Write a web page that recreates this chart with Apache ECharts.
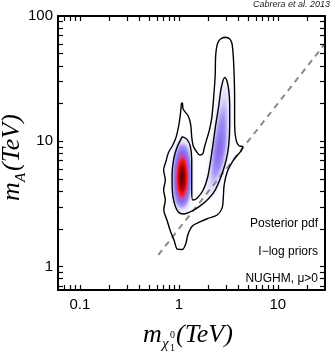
<!DOCTYPE html>
<html>
<head>
<meta charset="utf-8">
<script src="https://cdn.jsdelivr.net/npm/echarts@6/dist/echarts.min.js"></script>
<style>
  html, body { margin: 0; padding: 0; background: #fff; }
  #chart { width: 332px; height: 352px; }
</style>
</head>
<body>
<div id="chart"></div>
<script>
// axis extents (TeV) and tick positions
const xRange = [0.06, 30];
const yRange = [0.65, 100];
const xTicks = [0.07, 0.08, 0.09, 0.1, 0.2, 0.3, 0.4, 0.5, 0.6, 0.7, 0.8, 0.9, 1, 2, 3, 4, 5, 6, 7, 8, 9, 10, 20];
const yTicks = [0.7, 0.8, 0.9, 1, 2, 3, 4, 5, 6, 7, 8, 9, 10, 20, 30, 40, 50, 60, 70, 80, 90];
const xLabels = [0.1, 1, 10];
const yLabels = [1, 10, 100];

// m_A = 2 m_chi line
const funnelLine = [[0.62, 1.24], [30, 60]];

// contours [m_chi, m_A]
const outerContour = [
  [2.94, 67.6], [3.23, 66.1], [3.43, 60.9], [3.54, 48.8], [3.62, 33.8], [3.66, 21.4], [3.66, 13.5],
  [3.79, 10.2], [4.07, 9.17], [4.41, 9.09], [4.26, 8.37], [3.84, 7.63], [3.46, 6.83], [3.08, 5.69],
  [2.87, 4.48], [2.81, 3.53], [2.74, 2.94], [2.44, 2.58], [1.96, 2.42], [1.63, 2.27], [1.37, 2.11],
  [1.24, 1.82], [1.17, 1.51], [1.08, 1.37], [0.963, 1.38], [0.90, 1.60], [0.82, 1.92], [0.758, 2.35],
  [0.704, 2.83], [0.729, 3.40], [0.701, 4.08], [0.729, 4.91], [0.701, 5.90], [0.74, 6.9], [0.782, 8.07],
  [0.868, 9.34], [0.941, 10.9], [1.0, 13.5], [1.033, 16.2], [1.052, 18.4], [1.062, 20.0], [1.087, 20.2],
  [1.097, 18.4], [1.134, 17.5], [1.244, 15.9], [1.318, 13.5], [1.349, 10.8], [1.397, 9.17], [1.516, 8.21],
  [1.625, 7.77], [1.742, 7.92], [1.804, 8.84], [1.913, 10.4], [2.026, 12.1], [2.148, 15.3], [2.249, 22.6],
  [2.329, 33.8], [2.357, 48.8], [2.47, 60.9], [2.679, 66.1], [2.94, 67.6]
];
const innerContour = [
  [1.082, 10.9], [0.952, 8.84], [0.884, 7.09], [0.854, 5.38], [0.858, 4.08], [0.899, 3.22], [0.986, 2.73],
  [1.121, 2.63], [1.366, 2.78], [1.643, 3.05], [1.981, 3.46], [2.329, 4.08], [2.679, 5.28], [3.008, 7.09],
  [3.189, 9.34], [3.263, 13.5], [3.263, 19.5], [3.189, 25.7], [3.043, 30.8], [2.905, 32.3], [2.679, 26.6],
  [2.528, 19.1], [2.357, 13.5], [2.223, 9.69], [2.098, 7.09], [1.958, 5.19], [1.762, 4.08], [1.533, 3.53],
  [1.381, 3.40], [1.349, 4.08], [1.349, 5.38], [1.349, 7.09], [1.303, 9.17], [1.201, 10.4], [1.082, 10.9]
];

// posterior ridge samples [m_chi, m_A, density]
const pdfLowMass = [
  [1.09, 9.17, 0.22], [1.09, 8.21, 0.35], [1.085, 7.35, 0.55], [1.085, 6.59, 0.80], [1.08, 5.90, 0.95],
  [1.08, 5.28, 1.00], [1.08, 4.74, 1.00], [1.075, 4.24, 0.90], [1.075, 3.79, 0.65], [1.07, 3.40, 0.38],
  [1.07, 3.05, 0.20]
];
const pdfHighMass = [
  [2.94, 26.6, 0.08], [2.90, 23.4, 0.11], [2.86, 20.6, 0.15], [2.82, 18.1, 0.19], [2.78, 15.9, 0.24],
  [2.74, 14.0, 0.28], [2.70, 12.3, 0.33], [2.66, 10.8, 0.37], [2.61, 9.5, 0.42], [2.56, 8.37, 0.42],
  [2.50, 7.36, 0.38], [2.43, 6.47, 0.32], [2.35, 5.69, 0.26], [2.26, 5.0, 0.19], [2.15, 4.39, 0.13],
  [2.02, 3.87, 0.09]
];

const lg = Math.log10;
const toLog = pts => pts.map(p => [lg(p[0]), lg(p[1])]);
const fmt = v => String(parseFloat(Math.pow(10, v).toPrecision(2)));

echarts.registerMap('pdfplane', {
  type: 'FeatureCollection',
  features: [{
    type: 'Feature',
    properties: { name: 'plane' },
    geometry: {
      type: 'Polygon',
      coordinates: [[
        [lg(xRange[0]), lg(yRange[0])], [lg(xRange[1]), lg(yRange[0])],
        [lg(xRange[1]), lg(yRange[1])], [lg(xRange[0]), lg(yRange[1])],
        [lg(xRange[0]), lg(yRange[0])]
      ]]
    }
  }]
});

const gridBox = { left: 58, right: 7, top: 16, bottom: 62 };
const plotW = 332 - gridBox.left - gridBox.right;
const plotH = 352 - gridBox.top - gridBox.bottom;

function makeAxis(pos, range, ticks, labels, withLabels) {
  return {
    type: 'value',
    position: pos,
    min: lg(range[0]),
    max: lg(range[1]),
    axisLine: { show: true, onZero: false, lineStyle: { color: '#000', width: 2 } },
    axisTick: { show: true, inside: true, length: 5, customValues: ticks.map(lg), lineStyle: { color: '#000', width: 1.2 } },
    axisLabel: {
      show: withLabels,
      customValues: labels.map(lg),
      formatter: fmt,
      color: '#000',
      fontSize: 15,
      fontFamily: 'Liberation Sans',
      margin: pos === 'left' ? 5 : 7
    },
    splitLine: { show: false },
    z: 10
  };
}

const chart = echarts.init(document.getElementById('chart'));

const option = {
  animation: false,
  backgroundColor: '#fff',
  grid: Object.assign({ outerBoundsMode: 'none', containLabel: false }, gridBox),
  xAxis: [
    makeAxis('bottom', xRange, xTicks, xLabels, true),
    makeAxis('top', xRange, xTicks, xLabels, false)
  ],
  yAxis: [
    makeAxis('left', yRange, yTicks, yLabels, true),
    makeAxis('right', yRange, yTicks, yLabels, false)
  ],
  geo: Object.assign({
    map: 'pdfplane',
    roam: false,
    silent: true,
    aspectScale: (plotW / plotH) / ((lg(xRange[1]) - lg(xRange[0])) / (lg(yRange[1]) - lg(yRange[0]))),
    boundingCoords: [[lg(xRange[0]), lg(yRange[1])], [lg(xRange[1]), lg(yRange[0])]],
    itemStyle: { areaColor: 'rgba(0,0,0,0)', borderWidth: 0, borderColor: 'rgba(0,0,0,0)' },
    label: { show: false },
    emphasis: { disabled: true },
    z: 0
  }, gridBox),
  visualMap: [{
    type: 'continuous',
    show: false,
    min: 0,
    max: 1,
    seriesIndex: 0,
    inRange: { color: ['#ffffff', '#e2dcfb', '#a192f6', '#8870ec', '#c04cb4', '#ff1010', '#900000', '#000000'] }
  }],
  series: [
    {
      type: 'heatmap',
      coordinateSystem: 'geo',
      geoIndex: 0,
      pointSize: 6,
      blurSize: 7,
      minOpacity: 1,
      maxOpacity: 1,
      silent: true,
      data: pdfLowMass.concat(pdfHighMass).map(p => [lg(p[0]), lg(p[1]), p[2]])
    },
    {
      type: 'line',
      data: toLog(outerContour),
      smooth: 0.3,
      symbol: 'none',
      silent: true,
      lineStyle: { color: '#000', width: 1.4 },
      z: 5
    },
    {
      type: 'line',
      data: toLog(innerContour),
      smooth: 0.3,
      symbol: 'none',
      silent: true,
      lineStyle: { color: '#000', width: 1.4 },
      z: 5
    },
    {
      type: 'line',
      data: toLog(funnelLine),
      symbol: 'none',
      silent: true,
      lineStyle: { color: '#8a8a8a', width: 2, type: [6, 5] },
      z: 4
    }
  ],
  graphic: [
    { type: 'text', right: 2, top: 0, style: { text: 'Cabrera et al. 2013', font: 'italic 9px "Liberation Sans"', fill: '#222' } },
    { type: 'text', x: 318, y: 224, style: { text: 'Posterior pdf', font: '12px "Liberation Sans"', fill: '#000', align: 'right', verticalAlign: 'middle' } },
    { type: 'text', x: 318, y: 252, style: { text: 'I\u2212log priors', font: '12px "Liberation Sans"', fill: '#000', align: 'right', verticalAlign: 'middle' } },
    { type: 'text', x: 318, y: 279, style: { text: 'NUGHM, \u03bc>0', font: '12px "Liberation Sans"', fill: '#000', align: 'right', verticalAlign: 'middle' } },
    // x axis title
    { type: 'text', x: 143, y: 335, style: { text: 'm', font: 'italic 26px "Liberation Serif"', fill: '#000', verticalAlign: 'middle' } },
    { type: 'text', x: 162, y: 344, style: { text: '\u03c7', font: 'italic 15px "Liberation Serif"', fill: '#000', verticalAlign: 'middle' } },
    { type: 'text', x: 170, y: 335, style: { text: '0', font: '10px "Liberation Serif"', fill: '#000', verticalAlign: 'middle' } },
    { type: 'text', x: 170, y: 348, style: { text: '1', font: '10px "Liberation Serif"', fill: '#000', verticalAlign: 'middle' } },
    { type: 'text', x: 176, y: 335, style: { text: '(TeV)', font: 'italic 26px "Liberation Serif"', fill: '#000', verticalAlign: 'middle' } },
    // y axis title
    {
      type: 'group', x: 21, y: 201, rotation: Math.PI / 2,
      children: [
        { type: 'text', x: 0, y: -9, style: { text: 'm', font: 'italic 26px "Liberation Serif"', fill: '#000', verticalAlign: 'middle' } },
        { type: 'text', x: 19, y: 0, style: { text: 'A', font: 'italic 15px "Liberation Serif"', fill: '#000', verticalAlign: 'middle' } },
        { type: 'text', x: 30, y: -9, style: { text: '(TeV)', font: 'italic 26px "Liberation Serif"', fill: '#000', verticalAlign: 'middle' } }
      ]
    }
  ]
};

chart.setOption(option);
</script>
</body>
</html>
